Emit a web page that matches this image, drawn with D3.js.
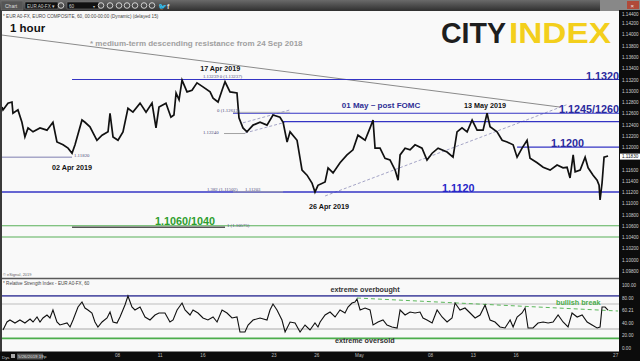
<!DOCTYPE html>
<html><head><meta charset="utf-8">
<script src="https://cdn.jsdelivr.net/npm/d3@7"></script>
<style>html,body{margin:0;padding:0;background:#fff;overflow:hidden}svg{display:block;font-family:Arial,"Liberation Sans",sans-serif}</style>
</head><body><svg id="c" width="640" height="361"></svg>
<script>
// ---------- data (time t = trading days from 08 Apr 2019, price in EUR/USD) ----------
const priceSeries = [[-8.08,1.1271],[-8.01,1.1266],[-7.66,1.1278],[-7.38,1.1280],[-7.31,1.1260],[-6.96,1.1266],[-6.68,1.1244],[-6.47,1.1218],[-6.25,1.1234],[-5.90,1.1227],[-5.41,1.1234],[-4.92,1.1230],[-4.50,1.1244],[-4.22,1.1209],[-3.79,1.1204],[-3.44,1.1198],[-3.16,1.1189],[-2.95,1.1204],[-2.46,1.1248],[-2.25,1.1244],[-1.90,1.1236],[-1.41,1.1212],[-1.05,1.1221],[-0.63,1.1227],[-0.49,1.1260],[-0.28,1.1218],[0.07,1.1212],[0.42,1.1227],[0.77,1.1269],[1.12,1.1262],[1.62,1.1278],[2.04,1.1262],[2.46,1.1278],[2.74,1.1234],[2.95,1.1271],[3.44,1.1278],[3.79,1.1253],[4.00,1.1257],[4.15,1.1296],[4.36,1.1284],[4.57,1.1319],[4.92,1.1298],[5.27,1.1301],[5.62,1.1314],[6.04,1.1307],[6.54,1.1298],[6.75,1.1287],[7.10,1.1280],[7.38,1.1301],[7.59,1.1316],[7.94,1.1298],[8.43,1.1296],[8.57,1.1252],[8.85,1.1234],[9.13,1.1227],[9.56,1.1239],[10.05,1.1244],[10.54,1.1239],[10.96,1.1257],[11.45,1.1253],[11.67,1.1244],[11.95,1.1209],[12.16,1.1227],[12.65,1.1212],[13.00,1.1159],[13.35,1.1150],[13.70,1.1136],[13.91,1.1120],[14.12,1.1132],[14.62,1.1138],[14.83,1.1163],[15.18,1.1154],[15.67,1.1172],[16.16,1.1186],[16.58,1.1195],[16.93,1.1221],[17.43,1.1212],[17.78,1.1234],[17.99,1.1248],[18.13,1.1198],[18.48,1.1198],[18.83,1.1180],[19.18,1.1177],[19.54,1.1159],[19.75,1.1141],[19.89,1.1186],[20.24,1.1198],[20.59,1.1195],[20.94,1.1204],[21.43,1.1198],[21.78,1.1177],[22.14,1.1189],[22.56,1.1198],[23.19,1.1191],[23.61,1.1182],[23.89,1.1227],[24.24,1.1234],[24.60,1.1227],[24.95,1.1248],[25.30,1.1230],[25.72,1.1230],[26.00,1.1260],[26.21,1.1236],[26.70,1.1227],[27.06,1.1212],[27.41,1.1209],[27.83,1.1204],[28.11,1.1182],[28.46,1.1198],[28.81,1.1212],[29.02,1.1180],[29.52,1.1172],[29.94,1.1164],[30.43,1.1159],[30.92,1.1168],[31.34,1.1163],[31.62,1.1164],[31.83,1.1145],[32.05,1.1186],[32.19,1.1156],[32.54,1.1159],[32.89,1.1182],[33.10,1.1163],[33.45,1.1150],[33.73,1.1141],[33.87,1.1132],[33.94,1.1106],[34.08,1.1136],[34.22,1.1182],[34.50,1.1184]];

const rsiSeries = [[-8.01,28.4],[-7.73,41.2],[-7.52,44.4],[-7.17,39.6],[-6.82,44.4],[-6.47,39.6],[-6.11,46.0],[-5.90,41.2],[-5.62,49.2],[-5.41,41.2],[-5.20,47.6],[-4.92,52.4],[-4.71,47.6],[-4.50,60.4],[-4.22,41.2],[-4.01,36.4],[-3.51,39.6],[-3.30,33.2],[-3.09,44.4],[-2.74,65.2],[-2.46,73.2],[-2.25,63.6],[-2.04,60.4],[-1.76,55.6],[-1.55,41.2],[-1.34,33.2],[-1.05,41.2],[-0.70,47.6],[-0.49,57.2],[-0.28,41.2],[0,39.6],[0.21,49.2],[0.56,68.4],[0.77,82.8],[1.05,65.2],[1.26,60.4],[1.62,65.2],[1.97,49.2],[2.32,44.4],[2.67,52.4],[2.95,55.6],[3.37,55.6],[3.72,41.2],[3.94,44.4],[4.22,60.4],[4.57,71.6],[4.78,60.4],[5.13,52.4],[5.34,60.4],[5.69,55.6],[6.04,47.6],[6.39,44.4],[6.75,49.2],[7.03,41.2],[7.38,60.4],[7.73,55.6],[8.08,47.6],[8.43,49.2],[8.64,25.2],[8.99,25.2],[9.21,36.4],[9.56,44.4],[10.05,47.6],[10.54,44.4],[10.75,60.4],[10.96,70.0],[11.24,60.4],[11.59,44.4],[11.81,25.2],[12.16,41.2],[12.51,39.6],[12.86,25.2],[13.21,36.4],[13.56,28.4],[13.91,39.6],[14.12,33.2],[14.27,41.2],[14.62,52.4],[14.97,57.2],[15.32,49.2],[15.67,60.4],[16.02,55.6],[16.23,65.2],[16.51,71.6],[16.72,73.2],[16.86,78.0],[17.08,60.4],[17.43,63.6],[17.78,60.4],[17.99,36.4],[18.34,41.2],[18.69,44.4],[18.97,36.4],[19.32,33.2],[19.68,31.6],[19.89,60.4],[20.24,52.4],[20.59,57.2],[20.94,55.6],[21.29,57.2],[21.50,47.6],[21.78,44.4],[22.14,39.6],[22.49,60.4],[22.84,49.2],[23.19,41.2],[23.54,47.6],[23.75,71.6],[24.10,60.4],[24.45,63.6],[24.81,55.6],[25.16,47.6],[25.51,52.4],[25.86,68.4],[26.21,44.4],[26.56,41.2],[26.91,33.2],[27.26,31.6],[27.62,44.4],[27.83,33.2],[28.11,49.2],[28.46,55.6],[28.67,63.6],[28.88,31.6],[29.23,31.6],[29.58,39.6],[29.94,41.2],[30.29,39.6],[30.64,41.2],[30.99,52.4],[31.34,41.2],[31.69,33.2],[31.97,55.6],[32.33,49.2],[32.68,52.4],[33.03,41.2],[33.38,36.4],[33.73,31.6],[33.94,33.2],[34.08,65.2],[34.29,65.2],[34.50,60.2]];

const levelPrices = [1.1320, 1.1260, 1.1245, 1.1200, 1.1120];
const levelStartT = [-3.16, 8.15, 11.67, 28.11, -8.08];
const supportPrices = [1.1060, 1.1040];
const fibPrices = [1.1182, 1.1224, 1.12617, 1.11203, 1.10575];
const fibStartT = [-8.08, 7.52, 8.15, 8.15, -3.16];
const fibEndT = [-3.16, 9.0, 12.16, 11.67, 7.59];
const resistanceLine = [[-8.08, 1.1399], [31.13, 1.1271]];
const risingSupport = [[14.62, 1.1113], [31.69, 1.1276]];
const channelUpper = [[8.85, 1.1243], [12.16, 1.1266]];
const channelLower = [[9.0, 1.1225], [11.81, 1.1244]];
const rsiLevels = [83, 70, 30, 15];
const rsiTrend = [[16.86, 79.6], [35.2, 58.8]];
const priceTickValues = d3.range(0, 24).map(i => +(1.098 + i * 0.002).toFixed(3));
const rsiTickValues = [0, 20, 40, 60.21, 80, 100];
const dateTickT = [0, 3, 6, 11, 14, 17, 22, 25, 28, 35];
const dateTickLabels = ["08", "11", "16", "23", "26", "May", "08", "13", "16", "27"];
const lastPrice = 1.1183;

// ---------- layout ----------
const svg = d3.select("#c");
const x = d3.scaleLinear().domain([-8.08, 35.27]).range([2, 619]);
const y = d3.scaleLinear().domain([1.0969, 1.1440]).range([277, 12]);
const yr = d3.scaleLinear().domain([0, 100]).range([347.75, 285.25]);
const X0 = 2, X1 = 619;

const defs = svg.append("defs");
const g1 = defs.append("linearGradient").attr("id", "tb").attr("x1", 0).attr("y1", 0).attr("x2", 0).attr("y2", 1);
g1.append("stop").attr("offset", "0%").attr("stop-color", "#6a6a6a");
g1.append("stop").attr("offset", "100%").attr("stop-color", "#2f2f2f");
defs.append("clipPath").attr("id", "cp").append("rect").attr("x", X0).attr("y", 11).attr("width", X1 - X0).attr("height", 266);
defs.append("clipPath").attr("id", "cr").append("rect").attr("x", X0).attr("y", 279).attr("width", X1 - X0).attr("height", 72);

// background
svg.append("rect").attr("width", 640).attr("height", 361).attr("fill", "#f9f9f9");
// toolbar
svg.append("rect").attr("x", 0).attr("y", 0).attr("width", 640).attr("height", 11).attr("fill", "url(#tb)");
svg.append("rect").attr("x", 1).attr("y", 1).attr("width", 22).attr("height", 9).attr("fill", "#555").attr("stroke", "#777").attr("stroke-width", 0.5);
svg.append("text").attr("x", 5).attr("y", 8).attr("font-size", 5).attr("fill", "#ddd").text("Chart");
svg.append("rect").attr("x", 25).attr("y", 2).attr("width", 33).attr("height", 7).attr("fill", "#111").attr("stroke", "#888").attr("stroke-width", 0.5);
svg.append("text").attr("x", 27).attr("y", 7.6).attr("font-size", 4.6).attr("fill", "#ccc").text("EUR A0-FX ▾");
svg.append("rect").attr("x", 67).attr("y", 2).attr("width", 32).attr("height", 7).attr("fill", "#111").attr("stroke", "#888").attr("stroke-width", 0.5);
svg.append("text").attr("x", 69).attr("y", 7.6).attr("font-size", 4.6).attr("fill", "#ccc").text("60");
svg.append("text").attr("x", 93).attr("y", 7.6).attr("font-size", 4).attr("fill", "#ccc").text("▾");
[61, 101, 110, 119, 127, 135, 144, 152].forEach(cx => {
  svg.append("circle").attr("cx", cx).attr("cy", 5.5).attr("r", 2.8).attr("fill", "none").attr("stroke", "#ddd").attr("stroke-width", 0.9);
});
svg.append("text").attr("x", 158).attr("y", 8.5).attr("font-size", 7).attr("fill", "#ddd").text("🐦");
svg.append("text").attr("x", 167).attr("y", 8.5).attr("font-size", 7).attr("font-weight", "bold").attr("fill", "#ddd").text("f");
svg.append("rect").attr("x", 600).attr("y", 0).attr("width", 40).attr("height", 11).attr("fill", "#888");
svg.append("rect").attr("x", 627).attr("y", 1).attr("width", 12).attr("height", 8).attr("fill", "#b04a3a");
svg.append("text").attr("x", 630.5).attr("y", 7.5).attr("font-size", 6).attr("fill", "#eee").text("×");
// left border
svg.append("rect").attr("x", 0).attr("y", 11).attr("width", 2).attr("height", 341).attr("fill", "#3a3a3a");
// right axis strip & bottom bar
svg.append("rect").attr("x", X1).attr("y", 10).attr("width", 21).attr("height", 351).attr("fill", "#0c0c0c");
svg.append("rect").attr("x", 0).attr("y", 351.5).attr("width", 640).attr("height", 10).attr("fill", "#0c0c0c");

// header texts
svg.append("text").attr("x", 3).attr("y", 18).attr("font-size", 4.6).attr("fill", "#444")
  .text("* EUR A0-FX, EURO COMPOSITE, 60, 00:00-00:00 (Dynamic) (delayed 15)");
svg.append("text").attr("x", 10).attr("y", 32).attr("font-size", 11.5).attr("font-weight", "bold").attr("fill", "#111").text("1 hour");
svg.append("text").attr("x", 90).attr("y", 46).attr("font-size", 8).attr("font-weight", "bold").attr("fill", "#a0a0a0")
  .text("* medium-term descending resistance from 24 Sep 2018");
// logo
svg.append("text").attr("x", 441).attr("y", 43).attr("font-size", 29).attr("font-weight", "bold").attr("fill", "#1e1e1e")
  .attr("textLength", 65).attr("lengthAdjust", "spacingAndGlyphs").text("CITY");
svg.append("text").attr("x", 509).attr("y", 43).attr("font-size", 29).attr("font-weight", "bold").attr("fill", "#f3cf1c")
  .attr("textLength", 102).attr("lengthAdjust", "spacingAndGlyphs").text("INDEX");

// ---------- price panel ----------
const pp = svg.append("g").attr("clip-path", "url(#cp)");
const line = d3.line().x(d => x(d[0])).y(d => y(d[1]));
pp.append("path").datum(resistanceLine).attr("d", line).attr("stroke", "#8a8a8a").attr("stroke-width", 1).attr("fill", "none");
[risingSupport, channelUpper, channelLower].forEach(l => {
  pp.append("path").datum(l).attr("d", line).attr("stroke", "#9a9ac0").attr("stroke-width", 0.9).attr("stroke-dasharray", "3,2").attr("fill", "none");
});
levelPrices.forEach((p, i) => {
  pp.append("line").attr("x1", x(levelStartT[i])).attr("x2", X1).attr("y1", y(p)).attr("y2", y(p))
    .attr("stroke", "#3434c4").attr("stroke-width", p === 1.1120 ? 1.6 : 1.2);
});
supportPrices.forEach(p => {
  pp.append("line").attr("x1", X0).attr("x2", X1).attr("y1", y(p)).attr("y2", y(p)).attr("stroke", "#58b058").attr("stroke-width", 1.1);
});
const fibColors = ["#7070a8", "#999", "#aaa", "#aaa", "#555"];
const fibWidths = [0.9, 0.9, 0.8, 0.9, 1.4];
fibPrices.forEach((p, i) => {
  pp.append("line").attr("x1", x(fibStartT[i])).attr("x2", x(fibEndT[i])).attr("y1", y(p)).attr("y2", y(p))
    .attr("stroke", fibColors[i]).attr("stroke-width", fibWidths[i]);
});
pp.append("path").datum(priceSeries).attr("d", line).attr("stroke", "#111").attr("stroke-width", 1.7)
  .attr("stroke-linejoin", "miter").attr("fill", "none");

// fib labels
const fibLabels = [
  ["1.13239   0 (1.13237)", 6.04, 1.1323],
  ["0 (1.12617)", 7.03, 1.1263],
  ["1.12240", 6.04, 1.1223],
  ["1.11820", -3.02, 1.1183],
  ["1.382 (1.11502)", 6.32, 1.1122],
  ["1.11203", 9.0, 1.1122],
  ["1 (1.10575)", 7.73, 1.1057]
];
fibLabels.forEach(d => {
  pp.append("text").attr("x", x(d[1])).attr("y", y(d[2])).attr("font-size", 4.8).attr("font-family", "Liberation Serif, serif")
    .attr("fill", "#4a4a7a").text(d[0]);
});

// annotations
const notes = [
  ["17 Apr 2019", 7.25, 1.13351, "#111", 7.2, "middle"],
  ["02 Apr 2019", -3.16, 1.1159, "#111", 7.2, "middle"],
  ["26 Apr 2019", 14.9, 1.1090, "#111", 7.2, "middle"],
  ["01 May ~ post FOMC", 18.55, 1.12693, "#2e2e96", 8, "middle"],
  ["13 May 2019", 25.86, 1.12693, "#111", 7.2, "middle"]
];
notes.forEach(d => {
  svg.append("text").attr("x", x(d[1])).attr("y", y(d[2])).attr("font-size", d[4]).attr("font-weight", "bold")
    .attr("fill", d[3]).attr("text-anchor", d[5]).text(d[0]);
});
const levelNotes = [
  ["1.1320", 35.27, 1.1319, "end", "#2a2a9e"],
  ["1.1245/1260", 35.27, 1.1260, "end", "#2a2a9e"],
  ["1.1200", 30.5, 1.12005, "start", "#2a2a9e"],
  ["1.1120", 22.84, 1.1120, "start", "#2626c8"],
  ["1.1060/1040", 2.67, 1.1061, "start", "#2e9e2e"]
];
levelNotes.forEach(d => {
  svg.append("text").attr("x", x(d[1])).attr("y", y(d[2])).attr("font-size", 10.8).attr("font-weight", "bold")
    .attr("fill", d[4]).attr("text-anchor", d[3]).text(d[0]);
});

// price axis (label hidden behind the current-price tag)
const pa = svg.append("g").attr("transform", `translate(${X1},0)`)
  .call(d3.axisRight(y).tickValues(priceTickValues.filter(v => Math.abs(y(v) - y(lastPrice)) > 5))
    .tickSize(0).tickPadding(3).tickFormat(d3.format(".5f")));
pa.select(".domain").remove();
pa.selectAll("text").attr("font-size", 4.6).attr("fill", "#cfcfcf").attr("font-family", "Arial, sans-serif");
pa.selectAll(".tick").filter(d => y(d) < 15).attr("transform", "translate(0,15)");
// current price tag
svg.append("rect").attr("x", X1 + 1).attr("y", y(lastPrice) - 3).attr("width", 20).attr("height", 6).attr("fill", "#fff");
svg.append("text").attr("x", X1 + 3).attr("y", y(lastPrice) + 1.6).attr("font-size", 4.6).attr("fill", "#111").text("1.11830");

// separator and captions
svg.append("text").attr("x", 3).attr("y", 276).attr("font-size", 4).attr("fill", "#666").text("© eSignal, 2019");
svg.append("line").attr("x1", X0).attr("x2", X1).attr("y1", 278.5).attr("y2", 278.5).attr("stroke", "#5a5a5a").attr("stroke-width", 1.6);
svg.append("text").attr("x", 3).attr("y", 285).attr("font-size", 4.6).attr("fill", "#444")
  .text("* Relative Strength Index - EUR A0-FX, 60");

// ---------- RSI panel ----------
const rp = svg.append("g").attr("clip-path", "url(#cr)");
const rsiColors = ["#5858a8", "#bdbdbd", "#a8a8a8", "#4cad4c"];
const rsiWidths = [1.6, 1, 1, 1.6];
rsiLevels.forEach((v, i) => {
  rp.append("line").attr("x1", X0).attr("x2", X1).attr("y1", yr(v)).attr("y2", yr(v)).attr("stroke", rsiColors[i]).attr("stroke-width", rsiWidths[i]);
});
const rline = d3.line().x(d => x(d[0])).y(d => yr(d[1]));
rp.append("path").datum(rsiTrend).attr("d", rline).attr("stroke", "#5cb85c").attr("stroke-width", 1).attr("stroke-dasharray", "4,3").attr("fill", "none");
rp.append("path").datum(rsiSeries).attr("d", rline).attr("stroke", "#111").attr("stroke-width", 1.1).attr("fill", "none");
const rsiNotes = [
  ["extreme overbought", 15.0, 89.2, "#333"],
  ["extreme oversold", 15.32, 7.6, "#333"],
  ["bullish break", 30.85, 68.4, "#4cad4c"]
];
rsiNotes.forEach(d => {
  svg.append("text").attr("x", x(d[1])).attr("y", yr(d[2])).attr("font-size", 7.2).attr("font-weight", "bold").attr("fill", d[3]).text(d[0]);
});
const ra = svg.append("g").attr("transform", `translate(${X1},0)`)
  .call(d3.axisRight(yr).tickValues(rsiTickValues).tickSize(0).tickPadding(3).tickFormat(d3.format(".2f")));
ra.select(".domain").remove();
ra.selectAll("text").attr("font-size", 4.6).attr("fill", "#cfcfcf").attr("font-family", "Arial, sans-serif");

// ---------- time axis ----------
const ta = svg.append("g").attr("transform", "translate(0,352)")
  .call(d3.axisBottom(x).tickValues(dateTickT).tickSize(0).tickPadding(2).tickFormat((d, i) => dateTickLabels[i]));
ta.select(".domain").remove();
ta.selectAll("text").attr("font-size", 4.6).attr("fill", "#bdbdbd").attr("font-family", "Arial, sans-serif");
svg.append("text").attr("x", 2).attr("y", 358.5).attr("font-size", 4.4).attr("fill", "#ccc").text("Dys");
svg.append("rect").attr("x", 11).attr("y", 354).attr("width", 4).attr("height", 4).attr("fill", "#aaa");
svg.append("rect").attr("x", 17).attr("y", 353.5).attr("width", 26).attr("height", 6).attr("fill", "#555");
svg.append("text").attr("x", 18).attr("y", 358.3).attr("font-size", 4.4).attr("fill", "#ddd").text("5/26/2019 19");
svg.append("text").attr("x", 44).attr("y", 358.3).attr("font-size", 4.4).attr("fill", "#ccc").text("p");
</script></body></html>
